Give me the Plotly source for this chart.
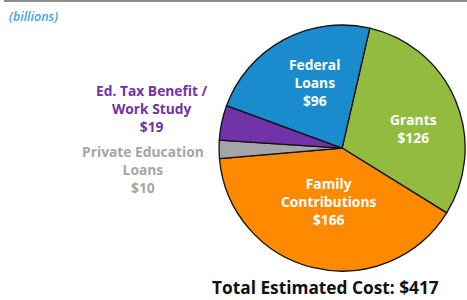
import plotly.graph_objects as go

labels = ["Grants", "Family Contributions", "Private Education Loans", "Ed. Tax Benefit / Work Study", "Federal Loans"]
values = [126, 166, 10, 19, 96]
colors = ["#92bb40", "#ff8a00", "#a5a5a5", "#7232a8", "#1a8ccd"]
total = sum(values)

fig = go.Figure(go.Pie(
    labels=labels, values=values, sort=False, direction="clockwise", rotation=13,
    marker=dict(colors=colors, line=dict(color="#111111", width=1.3)),
    textinfo="none", hoverinfo="label+value", showlegend=False,
    domain=dict(x=[0.469, 0.996], y=[0.093, 0.92]),
))

F = "Open Sans"
def ann(text, x, y, color, size=13.8):
    fig.add_annotation(text=text, x=x, y=y, xref="paper", yref="paper", showarrow=False,
                       xanchor="center", yanchor="middle", align="center",
                       font=dict(family=F, size=size, color=color, weight="bold"))

def v(i):
    return "$%d" % values[i]

H = 300.0; W = 467.0
ann("Grants<br>" + v(0), 413/W, 1-128/H, "white")
ann("Family<br>Contributions<br>" + v(1), 328/W, 1-201/H, "white")
ann("Federal<br>Loans<br>" + v(4), 314/W, 1-82/H, "white")
ann("Ed. Tax Benefit /<br>Work Study<br>" + v(3), 152/W, 1-109/H, "#7232a8")
ann("Private Education<br>Loans<br>" + v(2), 143/W, 1-169/H, "#a5a5a5")
ann("Total Estimated Cost: $%d" % total, 325/W, 1-287/H, "#111111", size=17.3)
fig.add_annotation(text="(billions)", x=7/W, y=1-16/H, xref="paper", yref="paper", showarrow=False,
                   xanchor="left", yanchor="middle",
                   font=dict(family=F, size=12.5, color="#45a3e0", weight=600, style="italic"))

fig.add_shape(type="line", xref="paper", yref="paper", x0=4/W, x1=1, y0=1-1/H, y1=1-1/H,
              line=dict(color="#8c8c8c", width=2))

fig.update_layout(width=467, height=300, margin=dict(l=0, r=0, t=0, b=0),
                  paper_bgcolor="white", plot_bgcolor="white")
fig.write_html("out.html", config={"displayModeBar": False},
               post_script="document.body.style.margin='0';document.body.style.overflow='hidden';")
